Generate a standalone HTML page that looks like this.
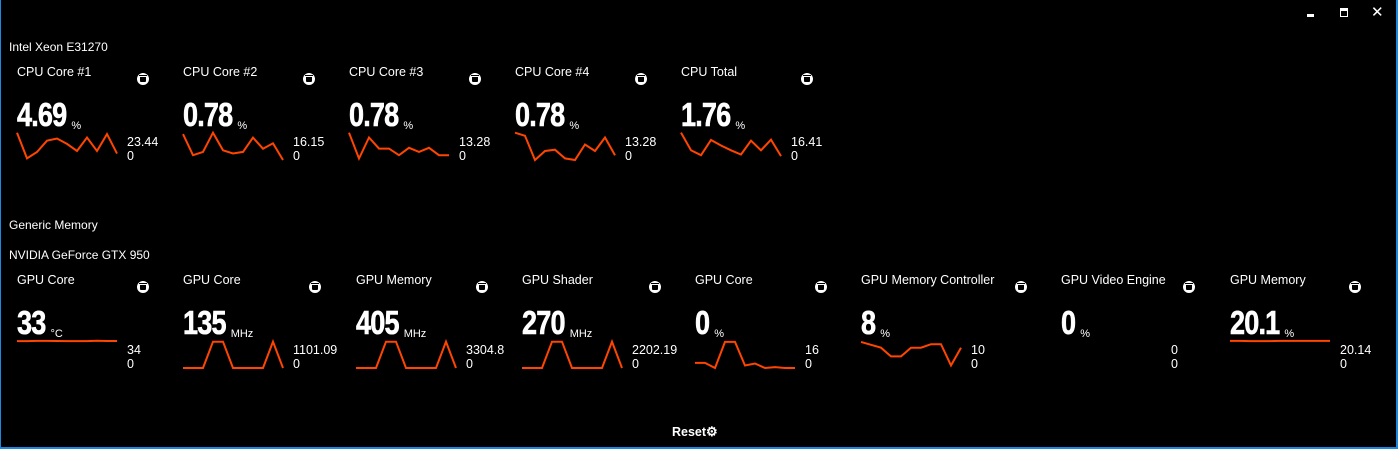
<!DOCTYPE html>
<html><head><meta charset="utf-8">
<style>
html,body{margin:0;padding:0;background:#000;}
#app{position:relative;width:1398px;height:449px;background:#000;overflow:hidden;font-family:"Liberation Sans",sans-serif;color:#fff;}
.abs{position:absolute;white-space:nowrap;}
.sec{font-size:12px;}
.title{font-size:12.5px;}
.big{font-family:"Liberation Sans",sans-serif;font-weight:bold;font-size:33px;line-height:33px;letter-spacing:-1px;transform:scaleX(0.82);transform-origin:0 0;-webkit-text-stroke:0.6px #fff;}
.unit{font-size:11px;}
.lab{font-size:12.5px;line-height:15px;}
.icon{width:12px;height:12px;border-radius:50%;background:#fff;}
.icon::after{content:"";position:absolute;left:3px;top:4px;width:6px;height:5px;background:#000;border-radius:0 0 1px 1px;}
.icon::before{content:"";position:absolute;left:2px;top:2px;width:8px;height:1px;background:#000;}
</style></head>
<body>
<div id="app">
<div class="abs" style="left:0;top:0;width:1px;height:449px;background:#1a8ae0"></div>
<div class="abs" style="left:1396px;top:0;width:2px;height:449px;background:#1a8ae0"></div>
<div class="abs" style="left:0;top:447px;width:1398px;height:2px;background:#1a8ae0"></div>
<div class="abs" style="left:1307px;top:14px;width:7px;height:3px;background:#fff"></div>
<div class="abs" style="left:1340px;top:8px;width:6px;height:5px;border:1.5px solid #fff;border-top-width:3px"></div>
<div class="abs" style="left:1371px;top:3px;font-size:15px;line-height:20px">✕</div>
<div class="abs sec" style="left:9px;top:40px">Intel Xeon E31270</div>
<div class="abs sec" style="left:9px;top:218px">Generic Memory</div>
<div class="abs sec" style="left:9px;top:248px">NVIDIA GeForce GTX 950</div>
<div class="abs" style="left:672px;top:424px;font-size:12.5px;font-weight:bold">Reset<span style="font-size:13px">⚙</span></div>
</div>
<script>
const titles=["CPU Core #1","CPU Core #2","CPU Core #3","CPU Core #4","CPU Total","GPU Core","GPU Core","GPU Memory","GPU Shader","GPU Core","GPU Memory Controller","GPU Video Engine","GPU Memory"];
const values=["4.69","0.78","0.78","0.78","1.76","33","135","405","270","0","8","0","20.1"];
const units=["%","%","%","%","%","°C","MHz","MHz","MHz","%","%","%","%"];
const maxes=[23.44,16.15,13.28,13.28,16.41,34,1101.09,3304.8,2202.19,16,10,0,20.14];
const s0=[22.1,1.3,6.5,15.6,17.4,13.0,7.3,18.2,7.3,20.9,5.2];
const s1=[14.4,2.7,4.5,15.2,5.4,3.6,4.5,12.5,6.3,9.3,0];
const s2=[12.5,0.7,10.3,5.2,5.2,2.2,5.6,3.7,5.6,2.2,2.2];
const s3=[12.5,11.1,0,4.1,4.7,0.75,0,7.1,4.1,10.3,2.2];
const s4=[15.5,5.5,2.7,11.3,8.2,5.5,3.1,10.9,5.5,11.5,2.2];
const s5=[31.5,31.5,31.8,31.8,31.6,31.5,31.5,31.5,32.0,31.7,31.6];
const s6=[0,0,0,1000,1000,0,0,0,0,1000,0];
const s7=[0,0,0,3000,3000,0,0,0,0,3000,0];
const s8=[0,0,0,2000,2000,0,0,0,0,2000,0];
const s9=[2.8,2.8,0,14.4,14.4,1.4,2.5,0,0.5,0,0];
const s10=[9,8,7,4,4,7,7,8.2,8.2,0.9,7];
const s11=[];
const s12=[18.8,18.8,18.7,18.65,18.7,18.8,18.8,18.8,18.8,18.8,18.8];
const series=[s0,s1,s2,s3,s4,s5,s6,s7,s8,s9,s10,s11,s12];
const colX=[17,183,349,515,681,17,183,356,522,695,861,1061,1230];
const iconX=[137,303,469,635,801,137,309,476,649,815,1015,1183,1349];
const app=document.getElementById('app');
function mk(cls,x,y,txt){const d=document.createElement('div');d.className='abs '+cls;d.style.left=x+'px';d.style.top=y+'px';if(txt!==undefined)d.textContent=txt;app.appendChild(d);return d;}
for(let i=0;i<titles.length;i++){
  const oy=i<5?0:208;const x=colX[i];
  let t=mk('title',x,oy+65,titles[i]);
  
  
  let ic=mk('icon',iconX[i],oy+73);
  
  
  let b=mk('big',x,oy+98,values[i]);
  
  
  const bw=b.getBoundingClientRect().width;
  let u=mk('unit',x+bw+5,oy+120,units[i]);
  
  
  let mx=mk('lab',x+110,oy+135,String(maxes[i]));
  
  
  let mn=mk('lab',x+110,oy+149,'0');
  
  
  const s=series[i];
  if(s.length){
    const top=oy+131,bot=oy+160;
    const xs=k=>x+k*100/(s.length-1);
    const ys=v=>bot-(v/maxes[i])*(bot-top);
    const svg=document.createElementNS('http://www.w3.org/2000/svg','svg');
    svg.setAttribute('width','1398');svg.setAttribute('height','449');
    svg.style.position='absolute';svg.style.left='0';svg.style.top='0';
    
    
    const p=document.createElementNS('http://www.w3.org/2000/svg','polyline');
    p.setAttribute('points',s.map((v,k)=>xs(k).toFixed(1)+','+ys(v).toFixed(1)).join(' '));
    p.setAttribute('fill','none');p.setAttribute('stroke','#ff4500');p.setAttribute('stroke-width','2');
    
    
    svg.appendChild(p);app.appendChild(svg);
  }
}
</script>
</body></html>
